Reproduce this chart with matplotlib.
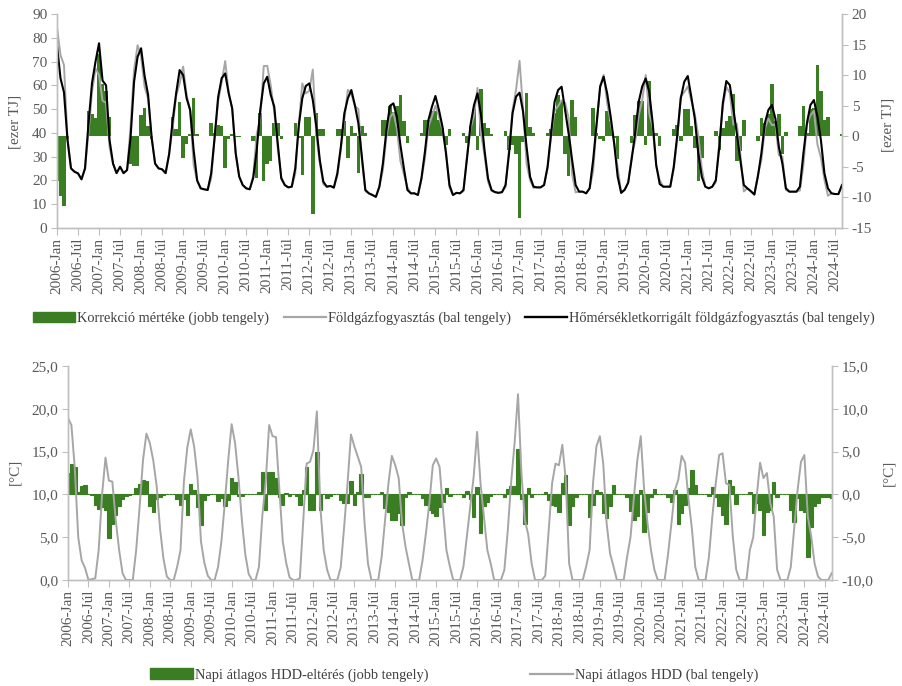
import numpy as np
import matplotlib
matplotlib.use("Agg")
import matplotlib.pyplot as plt
from matplotlib.patches import Patch
from matplotlib.lines import Line2D

# monthly data, 2006-Jan .. 2024-Sep (12 values per row = one year)
korrigalt = [  # hőmérsékletkorrigált földgázfogyasztás, ezer TJ (bal tengely)
    77, 63, 57, 37, 25, 23.6, 22.9, 20.4, 25, 44, 61, 70,
    77.7, 62, 60, 37, 27, 23, 25.7, 23, 24.3, 38, 61.5, 72,
    75.6, 64, 56, 38, 27, 25, 24.6, 23, 31, 45, 56.6, 66.4,
    64.3, 54.5, 49.6, 32.7, 20, 16.6, 16.2, 15.9, 22.9, 38.3, 55.2, 63,
    65, 56.6, 50.3, 31.3, 21.5, 18, 16.6, 16.2, 21, 32.7, 49.6, 60.8,
    63.6, 55.9, 51, 35.5, 20.8, 18, 17, 17.3, 25, 43, 54.5, 59.7,
    60.8, 53.8, 42.6, 28.5, 19.4, 17.3, 17.6, 16.9, 22.9, 34, 48.2, 54.5,
    58, 51.7, 44, 29.9, 15.9, 14.5, 13.8, 13, 17.3, 27, 41, 51.3,
    52.4, 46.8, 34.8, 25, 15.9, 14.5, 14.5, 13.8, 20.8, 32, 45.4, 51,
    55.5, 49.6, 42.6, 31.3, 18, 13.8, 14.7, 14.5, 15.9, 29.2, 43.3, 51.7,
    56.6, 47.5, 32.7, 20.8, 15.9, 15, 14.7, 15, 18, 31.3, 48.2, 55.2,
    56.9, 48.9, 34.1, 21.5, 17.3, 17, 17, 18, 25.7, 39.7, 53.1, 58,
    59.4, 49.6, 39.7, 28.5, 18, 15.2, 15.2, 14.5, 16.6, 28.5, 44, 59.4,
    63.6, 56.6, 46.8, 35.5, 21.5, 14.7, 16, 19, 29, 40, 53, 59.5,
    62.9, 57.3, 44, 26.4, 18.4, 17.3, 17.3, 17.3, 25.7, 39, 54.5, 61.5,
    63.9, 55.2, 46, 31.3, 21.5, 17.3, 16.6, 17.3, 20, 34, 52.4, 61.8,
    60.1, 50.3, 39.7, 28.5, 18, 16.6, 15.4, 14, 21.5, 31.3, 44, 49.6,
    51.7, 46, 34.1, 27, 16.6, 15.2, 15.2, 15.2, 17.3, 31.3, 44, 51.7,
    53.8, 46.8, 36.9, 22.9, 16.6, 14.5, 14.2, 14.2, 18,
]

fogyasztas = [  # földgázfogyasztás, ezer TJ (bal tengely)
    84.4, 72.8, 68.5, 37.5, 25, 23.6, 22.9, 20.4, 25, 39.9, 57.4, 67,
    64.3, 53.5, 52.6, 33.9, 27, 23, 25.7, 23, 24.3, 42.6, 66.4, 76.9,
    72.2, 59.4, 54.3, 38.4, 27, 25, 24.6, 23, 31, 41.9, 55.5, 60.8,
    67.9, 55.8, 49.3, 26.4, 19.6, 16.6, 16.2, 15.9, 20.7, 37.8, 53.4, 61.4,
    70.2, 57.1, 50, 31.5, 21.7, 18, 16.6, 16.2, 21.8, 39.5, 45.8, 68.1,
    68.2, 59.9, 48.8, 33.3, 21.3, 18, 17, 17.3, 22.8, 43.3, 60.8, 56.6,
    57.7, 66.6, 38.8, 27.4, 18.3, 17.3, 17.6, 16.9, 21.8, 32.9, 45.7, 58.1,
    56.4, 51.2, 50, 28.3, 15.4, 14.5, 13.8, 13, 17.3, 24.3, 38.3, 46.4,
    48.4, 41.8, 28.1, 22.5, 17, 14.5, 14.5, 13.8, 20.3, 29.3, 42.7, 46.9,
    51.4, 46.9, 41.2, 32.7, 16.9, 13.8, 14.7, 14.5, 15.4, 30.3, 41.7, 47.3,
    58.9, 39.7, 30.5, 19.4, 15.5, 15, 14.7, 15, 17.2, 33.5, 49.6, 58.1,
    70.3, 49.9, 27, 20, 16.8, 17, 17, 18, 25.2, 38.6, 49.3, 51.2,
    53.7, 52.6, 46.3, 22.5, 14.9, 15.2, 15.2, 14.5, 16.6, 23.9, 43.5, 59.9,
    64.4, 52.5, 44.3, 35.8, 25.3, 14.7, 16, 19, 30.1, 36.5, 47.2, 53.7,
    64.3, 48.3, 42.1, 25.9, 20, 17.3, 17.3, 17.3, 24.6, 37.1, 55.3, 57.1,
    59.5, 53.6, 47.9, 38.7, 25, 17.3, 16.6, 17.3, 19.1, 36.2, 51, 59.3,
    56.8, 43.4, 43.8, 31, 15.3, 16.6, 15.4, 14, 22.3, 28.3, 41.8, 46,
    43.2, 43.5, 30.5, 30, 15.9, 15.2, 15.2, 15.2, 15.7, 26.4, 43.5, 47.3,
    49.2, 35.1, 29.5, 20.2, 13.5, 14.5, 14.2, 14.2, 17.6,
]

korrekcio = [  # korrekció mértéke, ezer TJ (jobb tengely)
    -7.4, -9.8, -11.5, -0.5, 0, 0, 0, 0, 0, 4.1, 3.6, 3.0,
    13.4, 8.5, 7.4, 3.1, 0, 0, 0, 0, 0, -4.6, -4.9, -4.9,
    3.4, 4.6, 1.7, -0.4, 0, 0, 0, 0, 0, 3.1, 1.1, 5.6,
    -3.6, -1.3, 0.3, 6.3, 0.4, 0, 0, 0, 2.2, 0.5, 1.8, 1.6,
    -5.2, -0.5, 0.3, -0.2, -0.2, 0, 0, 0, -0.8, -6.8, 3.8, -7.3,
    -4.6, -4.0, 2.2, 2.2, -0.5, 0, 0, 0, 2.2, -0.3, -6.3, 3.1,
    3.1, -12.8, 3.8, 1.1, 1.1, 0, 0, 0, 1.1, 1.1, 2.5, -3.6,
    1.6, 0.5, -6.0, 1.6, 0.5, 0, 0, 0, 0, 2.7, 2.7, 4.9,
    4.0, 5.0, 6.7, 2.5, -1.1, 0, 0, 0, 0.5, 2.7, 2.7, 4.1,
    4.1, 2.7, 1.4, -1.4, 1.1, 0, 0, 0, 0.5, -1.1, 1.6, 4.4,
    -2.3, 7.8, 2.2, 1.4, 0.4, 0, 0, 0, 0.8, -2.2, -1.4, -2.9,
    -13.4, -1.0, 7.1, 1.5, 0.5, 0, 0, 0, 0.5, 1.1, 3.8, 6.8,
    5.7, -3.0, -6.6, 6.0, 3.1, 0, 0, 0, 0, 4.6, 0.5, -0.5,
    -0.8, 4.1, 2.5, -0.3, -3.8, 0, 0, 0, -1.1, 3.5, 5.8, 5.8,
    -1.4, 9.0, 1.9, 0.5, -1.6, 0, 0, 0, 1.1, 1.9, -0.8, 4.4,
    4.4, 1.6, -1.9, -7.4, -3.5, 0, 0, 0, 0.9, -2.2, 1.4, 2.5,
    3.3, 6.9, -4.1, -2.5, 2.7, 0, 0, 0, -0.8, 3.0, 2.2, 3.6,
    8.5, 2.5, 3.6, -3.0, 0.7, 0, 0, 0, 1.6, 4.9, 0.5, 4.4,
    4.6, 11.7, 7.4, 2.7, 3.1, 0, 0, 0, 0.4,
]

hdd = [  # napi átlagos HDD, °C (bal tengely)
    18.9, 18.1, 13.0, 5.0, 2.3, 1.4, 0.0, 0.1, 0.2, 3.5, 10.0, 14.3,
    11.6, 11.5, 7.0, 3.5, 0.8, 0.0, 0.0, 0.0, 3.5, 8.5, 14.0, 17.1,
    16.0, 14.0, 11.0, 6.0, 2.5, 0.4, 0.0, 0.0, 1.5, 3.5, 11.5, 15.5,
    17.6, 15.6, 12.0, 4.5, 2.0, 0.5, 0.0, 0.0, 1.5, 4.5, 9.0, 14.0,
    18.2, 16.0, 12.0, 7.0, 3.0, 0.7, 0.0, 0.0, 1.5, 7.5, 11.5, 18.1,
    16.8, 16.7, 10.5, 4.5, 2.0, 0.3, 0.0, 0.0, 0.2, 7.0, 13.6, 13.8,
    15.2, 19.7, 8.6, 3.5, 1.2, 0.0, 0.0, 0.0, 1.5, 6.2, 11.3, 17.0,
    15.6, 14.4, 13.2, 6.6, 1.9, 0.0, 0.0, 0.0, 2.7, 7.0, 11.3, 14.5,
    13.4, 11.9, 6.6, 3.9, 1.9, 0.0, 0.0, 0.0, 2.3, 5.5, 9.0, 13.4,
    14.2, 13.2, 8.2, 3.5, 1.6, 0.0, 0.0, 0.0, 1.6, 5.1, 8.6, 12.1,
    17.3, 11.3, 7.4, 3.5, 1.9, 0.0, 0.0, 0.0, 1.2, 5.8, 11.5, 16.0,
    21.7, 12.5, 7.0, 5.3, 1.9, 0.0, 0.0, 0.0, 0.5, 5.8, 11.3, 13.6,
    13.4, 15.8, 11.7, 1.9, 0.0, 0.0, 0.0, 0.0, 1.6, 3.5, 11.3, 15.6,
    16.8, 13.6, 6.6, 3.1, 1.6, 0.0, 0.0, 0.0, 2.7, 5.0, 9.7, 14.0,
    16.8, 10.5, 6.6, 3.5, 1.2, 0.0, 0.0, 0.0, 3.0, 6.6, 10.5, 11.7,
    14.5, 13.7, 9.5, 6.0, 1.5, 0.0, 0.0, 0.0, 2.7, 7.4, 11.3, 14.6,
    14.8, 11.3, 11.1, 5.1, 1.2, 0.0, 0.0, 0.0, 3.5, 5.0, 9.7, 13.7,
    11.9, 12.5, 9.0, 7.4, 1.2, 0.0, 0.0, 0.0, 1.5, 6.0, 10.5, 13.8,
    14.6, 7.4, 5.1, 1.9, 0.4, 0.0, 0.0, 0.0, 0.8,
]

hdd_elteres = [  # napi átlagos HDD-eltérés, °C (jobb tengely)
    2.5, 3.5, 3.2, 0.3, 1.0, 1.1, 0.1, -0.1, -1.2, -1.7, -1.5, -1.8,
    -5.1, -3.4, -2.4, -1.4, -0.5, -0.2, -0.1, 0.0, 0.8, 1.2, 1.7, 1.6,
    -1.4, -2.1, -0.5, -0.3, -0.1, 0.1, 0.0, 0.0, -0.5, -1.2, -0.5, -2.4,
    1.2, 0.5, -1.5, -3.6, -0.6, -0.1, 0.0, 0.0, -0.8, -0.4, -1.4, -0.6,
    1.9, 1.5, -0.2, -0.2, 0.1, 0.0, 0.0, 0.0, 0.3, 2.6, -1.8, 2.6,
    2.6, 1.9, -0.3, -1.2, 0.2, -0.2, 0.0, -0.2, -1.2, 0.5, 3.2, -1.8,
    -1.8, 5.0, -1.8, 0.0, -0.4, -0.2, 0.0, 0.0, -0.6, -1.0, -1.0, 1.6,
    -1.2, 0.3, 2.4, -0.3, -0.3, 0.0, 0.0, 0.0, 0.3, -1.6, -2.0, -3.0,
    -3.0, -2.2, -3.6, -0.3, 0.3, 0.0, 0.0, 0.0, -0.4, -1.2, -1.8, -2.2,
    -2.5, -1.5, -0.9, 0.7, -0.2, 0.0, 0.0, 0.0, -0.3, 0.4, -0.5, -2.6,
    0.9, -4.5, -1.4, -0.9, -0.2, 0.0, 0.0, 0.0, -0.3, 0.6, 1.0, 1.0,
    5.3, -0.5, -3.4, 0.7, -0.3, 0.0, 0.0, 0.0, 0.3, -0.7, -1.2, -1.4,
    -2.0, 1.3, 2.3, -3.6, -1.4, -0.3, 0.0, 0.0, 0.1, -2.6, -1.2, 0.5,
    0.3, -2.2, -2.8, -1.4, 1.1, 0.0, 0.0, 0.0, -0.3, -1.9, -3.0, -2.5,
    0.5, -4.4, -2.0, -0.3, 0.6, 0.0, 0.0, 0.0, -0.3, -0.9, 0.5, -3.4,
    -2.2, -1.2, 0.7, 2.9, 1.1, 0.0, 0.0, 0.0, -0.2, 0.9, -0.3, -1.4,
    -2.4, -3.4, 1.7, 1.0, -1.1, 0.0, 0.0, 0.0, 0.3, -2.2, -1.0, -1.8,
    -4.7, -2.0, -1.8, 1.4, -0.3, 0.0, 0.0, 0.0, -1.8, -3.2, -0.4, -1.8,
    -2.0, -7.3, -3.8, -1.4, -1.0, -0.3, -0.3, -0.3, -0.4,
]

START_YEAR = 2006
GREEN = "#3B7D23"
GRAY = "#A6A6A6"
TXT = "#595959"
SPINE = "#BFBFBF"
FS = 11
LEG_FS = 10.4

plt.rcParams["font.family"] = ["Liberation Serif", "DejaVu Serif"]

x = np.arange(len(korrigalt))
tick_pos = np.arange(0, len(x), 6)
tick_lab = [f"{START_YEAR + p // 12}-{'Jan' if p % 12 == 0 else 'Júl'}" for p in tick_pos]


def style_axes(ax, axr):
    for a in (ax, axr):
        a.spines["top"].set_visible(False)
        for s in ("left", "right", "bottom"):
            a.spines[s].set_color(SPINE)
            a.spines[s].set_linewidth(1.0)
        a.tick_params(axis="y", colors=SPINE, labelcolor=TXT, labelsize=FS,
                      direction="out", length=4, pad=3)
    ax.tick_params(axis="x", colors=SPINE, labelcolor=TXT, labelsize=FS,
                   direction="out", length=5, pad=2)
    ax.set_xlim(0, len(x) - 1)
    ax.set_xticks(tick_pos)
    ax.set_xticklabels(tick_lab, rotation=90)
    # lines in front of the bars
    ax.set_zorder(axr.get_zorder() + 1)
    ax.patch.set_visible(False)


fig = plt.figure(figsize=(9.03, 6.86), dpi=100)

# --- upper chart: gas consumption ---
ax1 = fig.add_axes([0.0631, 0.668, 0.8693, 0.3115])
ax1r = ax1.twinx()
ax1r.bar(x, korrekcio, width=1.0, color=GREEN, linewidth=0)
ax1.plot(x, fogyasztas, color=GRAY, lw=1.4)
ax1.plot(x, korrigalt, color="black", lw=1.5)

ax1.set_ylim(0, 90)
ax1.set_yticks(range(0, 91, 10))
ax1r.set_ylim(-15, 20)
ax1r.set_yticks(range(-15, 21, 5))
ax1r.set_yticklabels([str(v) for v in range(-15, 21, 5)])
style_axes(ax1, ax1r)

fig.text(15 / 903, 1 - 122 / 686, "[ezer TJ]", rotation=90, ha="center", va="center",
         fontsize=FS, color=TXT)
fig.text(888 / 903, 1 - 125 / 686, "[ezer TJ]", rotation=90, ha="center", va="center",
         fontsize=FS, color=TXT)

handles1 = [
    Patch(facecolor=GREEN, edgecolor=GREEN),
    Line2D([], [], color=GRAY, lw=1.6),
    Line2D([], [], color="black", lw=1.7),
]
labels1 = [
    "Korrekció mértéke (jobb tengely)",
    "Földgázfogyasztás (bal tengely)",
    "Hőmérsékletkorrigált földgázfogyasztás (bal tengely)",
]
fig.legend(handles1, labels1, loc="center", bbox_to_anchor=(0.503, 1 - 318 / 686), ncol=3,
           frameon=False, fontsize=LEG_FS, handlelength=2.9, handletextpad=0.15,
           columnspacing=1.0, labelcolor="#404040")

# --- lower chart: heating degree days ---
ax2 = fig.add_axes([0.0753, 0.1545, 0.8457, 0.312])
ax2r = ax2.twinx()
ax2r.bar(x, hdd_elteres, width=1.0, color=GREEN, edgecolor=GREEN, linewidth=0.8)
ax2.plot(x, hdd, color=GRAY, lw=1.4)

ax2.set_ylim(0, 25)
ax2.set_yticks(np.arange(0, 26, 5))
ax2.set_yticklabels([f"{v:.1f}".replace(".", ",") for v in np.arange(0, 26, 5)])
ax2r.set_ylim(-10, 15)
ax2r.set_yticks(np.arange(-10, 16, 5))
ax2r.set_yticklabels([f"{v:.1f}".replace(".", ",") for v in np.arange(-10, 16, 5)])
style_axes(ax2, ax2r)

fig.text(15 / 903, 1 - 472 / 686, "[°C]", rotation=90, ha="center", va="center",
         fontsize=FS, color=TXT)
fig.text(889 / 903, 1 - 473 / 686, "[°C]", rotation=90, ha="center", va="center",
         fontsize=FS, color=TXT)

handles2 = [Patch(facecolor=GREEN, edgecolor=GREEN), Line2D([], [], color=GRAY, lw=1.6)]
labels2 = ["Napi átlagos HDD-eltérés (jobb tengely)", "Napi átlagos HDD (bal tengely)"]
fig.legend(handles2, labels2, loc="center", bbox_to_anchor=(0.503, 1 - 675 / 686), ncol=2,
           frameon=False, fontsize=LEG_FS, handlelength=3.0, handletextpad=0.15,
           columnspacing=7.0, labelcolor="#404040")

fig.savefig("out.png", dpi=100)
